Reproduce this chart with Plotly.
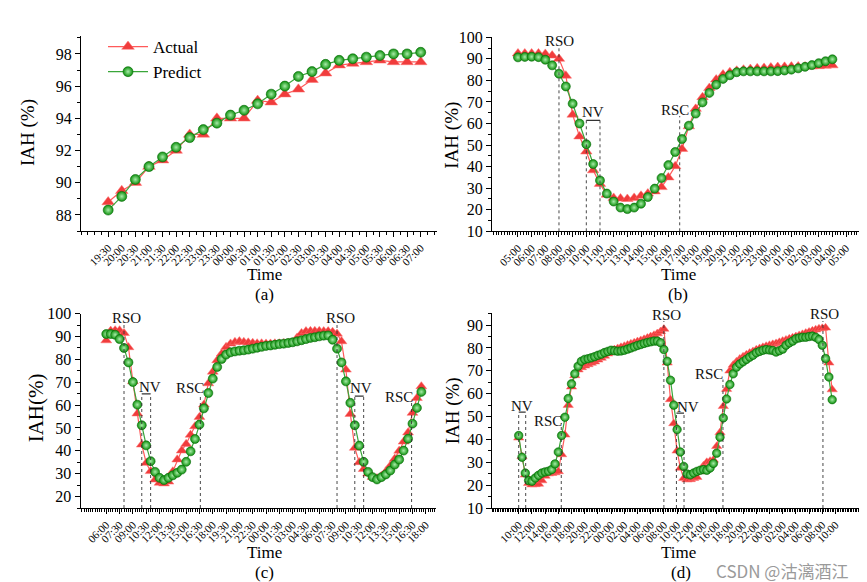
import plotly.graph_objects as go

FONT = "Liberation Serif"
W, H = 867, 582
STEP = 0.5  # sampling interval (hours)

# ---------------- Panel (a) ----------------
a_labels = ["19:30", "20:00", "20:30", "21:00", "21:30", "22:00", "22:30", "23:00",
            "23:30", "00:00", "00:30", "01:00", "01:30", "02:00", "02:30", "03:00",
            "03:30", "04:00", "04:30", "05:00", "05:30", "06:00", "06:30", "07:00"]
a_actual = [88.8, 89.5, 90.0, 91.0, 91.4, 92.0, 93.0, 93.0, 94.0, 94.0, 94.0, 95.1,
            95.0, 95.5, 95.8, 96.4, 96.8, 97.3, 97.4, 97.5, 97.6, 97.5, 97.5, 97.5]
a_predict = [88.3, 89.15, 90.2, 91.0, 91.6, 92.2, 92.8, 93.3, 93.7, 94.2, 94.5, 94.9,
             95.5, 96.0, 96.6, 96.9, 97.35, 97.6, 97.7, 97.8, 97.9, 98.0, 98.0, 98.1]

# ---------------- Panel (b) ----------------
b_labels = ["05:00", "06:00", "07:00", "08:00", "09:00", "10:00", "11:00", "12:00",
            "13:00", "14:00", "15:00", "16:00", "17:00", "18:00", "19:00", "20:00",
            "21:00", "22:00", "23:00", "00:00", "01:00", "02:00", "03:00", "04:00", "05:00"]
b_actual = [92.5, 92.5, 92.5, 92.5, 92.3, 91.5, 90.0, 82.2, 64.1, 54.0,
            47.0, 38.3, 32.0, 27.0, 25.5, 25.2, 25.0, 25.5, 26.5, 27.5,
            28.5, 30.5, 35.0, 40.2, 48.2, 58.7, 66.8, 72.2, 76.5, 80.4,
            82.7, 83.8, 84.5, 85.0, 85.3, 85.6, 85.8, 86.0, 86.2, 86.3,
            86.4, 86.5, 86.4, 86.5, 86.6, 86.8, 87.0]
b_predict = [90.7, 90.9, 91.0, 90.8, 89.6, 87.0, 83.1, 77.2, 69.2, 60.0,
             50.4, 41.2, 33.6, 27.5, 23.8, 21.0, 20.3, 21.0, 22.8, 25.9,
             29.8, 34.7, 40.7, 46.8, 52.8, 59.0, 64.6, 69.8, 74.2, 78.0,
             80.7, 82.4, 83.8, 84.2, 84.2, 84.2, 84.2, 84.2, 84.3, 84.6,
             85.0, 85.6, 86.3, 87.1, 88.0, 88.9, 89.8]

# ---------------- Panel (c) ----------------
c_labels = ["06:00", "07:30", "09:00", "10:30", "12:00", "13:30", "15:00", "16:30",
            "18:00", "19:30", "21:00", "22:30", "00:00", "01:30", "03:00", "04:30",
            "06:00", "07:30", "09:00", "10:30", "12:00", "13:30", "15:00", "16:30", "18:00"]
c_actual = [88.3, 92.5, 92.7, 92.7, 91.5, 85.3, 70.4, 56.3, 42.7, 34.7,
            31.1, 27.4, 26.0, 25.7, 26.5, 31.0, 36.2, 40.1, 43.0, 47.0,
            50.7, 54.8, 60.2, 69.5, 74.6, 79.6, 82.5, 85.4, 86.9, 87.6,
            87.9, 87.6, 87.4, 87.2, 87.0, 87.0, 86.9, 86.9, 87.0, 87.0,
            87.1, 87.2, 87.4, 89.5, 91.5, 92.3, 92.4, 92.4, 92.4, 92.3,
            92.3, 92.0, 91.2, 87.9, 75.5, 56.1, 41.3, 35.0, 32.0, 30.0,
            28.5, 28.0, 29.0, 31.0, 33.5, 36.5, 40.0, 44.0, 48.0, 56.6,
            63.1, 68.2]
c_predict = [91.1, 91.1, 90.8, 88.9, 85.0, 78.7, 70.1, 60.2, 51.2, 42.4,
             35.5, 30.8, 28.2, 27.2, 28.2, 29.3, 30.4, 31.8, 35.2, 39.8,
             45.2, 51.5, 58.6, 65.3, 71.6, 76.7, 80.2, 82.1, 83.1, 83.5,
             83.8, 84.0, 84.3, 84.7, 85.1, 85.5, 85.9, 86.1, 86.4, 86.7,
             86.9, 87.2, 87.5, 87.9, 88.4, 88.9, 89.4, 89.7, 90.1, 90.4,
             90.5, 88.6, 84.7, 78.7, 70.4, 61.0, 51.2, 42.3, 35.2, 30.8,
             28.5, 27.5, 28.5, 29.7, 31.4, 34.0, 36.2, 40.1, 45.3, 51.9,
             58.8, 65.8]

# ---------------- Panel (d) ----------------
d_labels = ["10:00", "12:00", "14:00", "16:00", "18:00", "20:00", "22:00", "00:00",
            "02:00", "04:00", "06:00", "08:00", "10:00", "12:00", "14:00", "16:00",
            "18:00", "20:00", "22:00", "00:00", "02:00", "04:00", "06:00", "08:00", "10:00"]
d_actual = [40.7, 32.5, 24.5, 20.8, 20.2, 20.3, 20.5, 22.0, 24.0, 25.0,
            25.2, 25.5, 26.0, 33.4, 42.0, 55.0, 63.0, 68.0, 70.5, 71.5,
            72.2, 72.8, 73.4, 74.0, 74.8, 75.6, 76.5, 77.5, 78.5, 79.3,
            79.8, 80.3, 80.8, 81.3, 81.8, 82.3, 82.8, 83.3, 83.8, 84.4,
            85.0, 85.6, 86.3, 87.2, 88.3, 73.5, 57.5, 47.0, 35.0, 27.5,
            23.0, 22.4, 22.5, 23.0, 23.5, 26.0, 28.5, 30.0, 30.5, 31.0,
            37.0, 43.0, 54.5, 62.0, 70.0, 72.5, 74.0, 75.2, 76.2, 77.0,
            77.8, 78.5, 79.2, 79.8, 80.3, 80.8, 81.2, 81.6, 82.0, 82.5,
            83.0, 83.5, 84.0, 84.5, 85.0, 85.5, 86.0, 86.5, 87.0, 87.5,
            88.0, 88.4, 88.6, 88.8, 73.5, 61.8]
d_predict = [41.7, 32.2, 25.3, 22.0, 21.7, 23.1, 24.3, 25.3, 25.8, 26.1,
             26.8, 29.3, 34.5, 41.7, 49.7, 57.9, 64.3, 68.7, 72.0, 74.2,
             75.0, 75.3, 75.7, 76.2, 76.8, 77.3, 78.0, 78.5, 79.0, 78.8,
             78.6, 78.7, 79.0, 79.5, 80.0, 80.5, 81.1, 81.5, 82.0, 82.4,
             82.7, 83.0, 83.0, 82.3, 79.3, 74.2, 65.9, 55.0, 44.3, 34.5,
             28.2, 24.9, 24.5, 25.3, 26.0, 26.5, 26.8, 26.5, 27.5, 29.5,
             34.0, 41.0, 49.4, 57.7, 64.0, 68.7, 71.6, 73.0, 74.0, 75.0,
             76.0, 76.8, 77.9, 78.5, 79.0, 79.3, 79.1, 78.9, 78.2, 78.8,
             79.5, 81.2, 82.2, 83.0, 84.0, 84.4, 84.7, 84.7, 85.0, 85.2,
             84.7, 83.7, 81.2, 75.4, 67.3, 57.4]

# event markers (hours from first sample): (label, x, line_top, label_x, label_y)
b_lines = [("RSO", 3.0, 96.0, 3.05, 98.1), ("RSC", 11.83, 63.5, 11.46, 66.3)]
b_boxes = [("NV", 5.0, 6.0, 61.5, 5.5, 65.2)]
c_lines = [("RSO", 2.0, 95.2, 2.25, 98.1), ("RSC", 10.6, 63.9, 9.47, 67.5),
           ("RSO", 26.0, 95.2, 26.4, 98.1), ("RSC", 34.4, 61.0, 33.0, 63.4)]
c_boxes = [("NV", 4.0, 5.0, 64.9, 4.9, 67.8), ("NV", 28.0, 29.0, 63.9, 28.7, 67.5)]
d_lines = [("RSC", 6.45, 47.2, 4.44, 48.2), ("RSO", 22.0, 91.8, 22.36, 94.4),
           ("RSC", 30.95, 66.2, 28.9, 68.7), ("RSO", 46.1, 91.8, 46.4, 95.0)]
d_boxes = [("NV", 0.0, 1.06, 51.9, 0.5, 54.8), ("NV", 23.9, 25.05, 51.5, 25.65, 54.2)]

RED = "#f03c3c"
RED_LINE = "#ff5a5a"
GREEN = "#0c900c"
GREEN_LINE = "#3aa63a"


def px_x(p):
    return p / W


def px_y(p):
    return 1 - p / H


panels = [
    dict(n="", act=a_actual, pred=a_predict, labels=a_labels, tstep=0.5,
         xdom=[73, 429], ydom=[223, 28.2], xr=[-1.0, 12.1], yr=[87, 99.1],
         ytv=[88, 90, 92, 94, 96, 98], ymin=1, xminor=0.25, ms=(11, 10),
         lines=[], boxes=[], legend=True),
    dict(n="2", act=b_actual, pred=b_predict, labels=b_labels, tstep=1.0,
         xdom=[484, 852], ydom=[223.3, 29.3], xr=[-1.9, 25.02], yr=[10, 100],
         ytv=list(range(10, 101, 10)), ymin=5, xminor=0.2, ms=(10, 9),
         lines=b_lines, boxes=b_boxes, legend=False),
    dict(n="3", act=c_actual, pred=c_predict, labels=c_labels, tstep=1.5,
         xdom=[72.7, 428], ydom=[500, 305.7], xr=[-2.88, 37.15], yr=[15, 100],
         ytv=list(range(20, 101, 10)), ymin=5, xminor=0.25, ms=(9.5, 9),
         lines=c_lines, boxes=c_boxes, legend=False),
    dict(n="4", act=d_actual, pred=d_predict, labels=d_labels, tstep=2.0,
         xdom=[484.3, 851.7], ydom=[500, 305], xr=[-4.0, 51.67], yr=[10, 95.3],
         ytv=list(range(10, 91, 10)), ymin=5, xminor=0.25, ms=(9, 8.5),
         lines=d_lines, boxes=d_boxes, legend=False),
]

fig = go.Figure()
annotations = []
shapes = []

for p in panels:
    n = p["n"]
    xs = [STEP * i for i in range(len(p["act"]))]
    xa, ya = "x" + n, "y" + n
    fig.add_trace(go.Scatter(
        x=xs, y=p["act"], xaxis=xa, yaxis=ya, mode="lines+markers", name="Actual",
        showlegend=p["legend"], cliponaxis=False,
        line=dict(color=RED_LINE, width=1.2),
        marker=dict(symbol="triangle-up", size=p["ms"][0], color=RED,
                    line=dict(color="#ff7070", width=0.5))))
    fig.add_trace(go.Scatter(
        x=xs, y=p["pred"], xaxis=xa, yaxis=ya, mode="lines+markers", name="Predict",
        showlegend=p["legend"], cliponaxis=False,
        line=dict(color=GREEN_LINE, width=1.2),
        marker=dict(symbol="circle", size=p["ms"][1], color=GREEN,
                    gradient=dict(type="radial", color="#a8eca8"),
                    line=dict(color="#0a6a0a", width=0.6))))

    tickvals = [p["tstep"] * k for k in range(len(p["labels"]))]
    fig.layout["xaxis" + n] = dict(
        domain=[px_x(p["xdom"][0]), px_x(p["xdom"][1])], anchor=ya, range=p["xr"],
        automargin=False,
        showline=True, linecolor="black", linewidth=1.3, mirror=False,
        showgrid=False, zeroline=False, ticks="outside", ticklen=5, tickwidth=1,
        tickcolor="black", tickmode="array", tickvals=tickvals, ticktext=p["labels"],
        tickangle=-45, tickfont=dict(family=FONT, size=11, color="black"),
        minor=dict(ticks="outside", ticklen=3, tickwidth=1, tickcolor="black",
                   tickmode="linear", tick0=0, dtick=p["xminor"], showgrid=False))
    fig.layout["yaxis" + n] = dict(
        domain=[px_y(p["ydom"][0]), px_y(p["ydom"][1])], anchor=xa, range=p["yr"],
        automargin=False,
        showline=True, linecolor="black", linewidth=1.3, showgrid=False,
        zeroline=False, ticks="outside", ticklen=5, tickwidth=1, tickcolor="black",
        tickmode="array", tickvals=p["ytv"],
        tickfont=dict(family=FONT, size=16, color="black"),
        minor=dict(ticks="outside", ticklen=3, tickwidth=1, tickcolor="black",
                   tickmode="linear", tick0=0, dtick=p["ymin"], showgrid=False))

    ybot = p["yr"][0]
    for (lab, x, top, tx, ty) in p["lines"]:
        shapes.append(dict(type="line", xref=xa, yref=ya, x0=x, x1=x, y0=ybot, y1=top,
                           line=dict(color="#333", width=0.9, dash="dot")))
        annotations.append(dict(xref=xa, yref=ya, x=tx, y=ty, text=lab, showarrow=False,
                                font=dict(family=FONT, size=15, color="#111")))
    for (lab, x0, x1, top, tx, ty) in p["boxes"]:
        for x in (x0, x1):
            shapes.append(dict(type="line", xref=xa, yref=ya, x0=x, x1=x, y0=ybot, y1=top,
                               line=dict(color="#333", width=0.9, dash="dot")))
        shapes.append(dict(type="line", xref=xa, yref=ya, x0=x0, x1=x1, y0=top, y1=top,
                           line=dict(color="#333", width=1.3)))
        annotations.append(dict(xref=xa, yref=ya, x=tx, y=ty, text=lab, showarrow=False,
                                font=dict(family=FONT, size=15, color="#111")))

# axis titles and captions (pixel positions)
titles = [
    ("Time", 256.7, 267, 17, 0), ("(a)", 256.7, 286, 17, 0),
    ("Time", 670, 267, 17, 0), ("(b)", 670, 286, 17, 0),
    ("Time", 256, 544, 17, 0), ("(c)", 256, 564, 17, 0),
    ("Time", 670.7, 544, 17, 0), ("(d)", 673, 564, 17, 0),
    ("IAH (%)", 20, 125, 19, -90), ("IAH (%)", 444, 126.7, 19, -90),
    ("IAH(%)", 28.3, 400, 21, -90), ("IAH (%)", 445, 403.3, 19, -90),
]
for (t, x, y, s, ang) in titles:
    annotations.append(dict(xref="paper", yref="paper", x=px_x(x), y=px_y(y), text=t,
                            showarrow=False, textangle=ang, xanchor="center",
                            yanchor="middle", font=dict(family=FONT, size=s, color="black")))

annotations.append(dict(xref="paper", yref="paper", x=px_x(706), y=px_y(562),
                        text="CSDN @沽漓酒江", showarrow=False, xanchor="left",
                        yanchor="middle",
                        font=dict(family="Noto Sans CJK SC", size=17, color="#9a9a9a")))

fig.update_layout(
    width=W, height=H, margin=dict(l=0, r=0, t=0, b=0),
    paper_bgcolor="white", plot_bgcolor="white",
    annotations=annotations, shapes=shapes,
    legend=dict(x=px_x(95), y=px_y(21), xanchor="left", yanchor="top",
                bgcolor="rgba(0,0,0,0)", font=dict(family=FONT, size=17, color="black"),
                itemwidth=40, tracegroupgap=0),
)

fig.write_html("out.html")
